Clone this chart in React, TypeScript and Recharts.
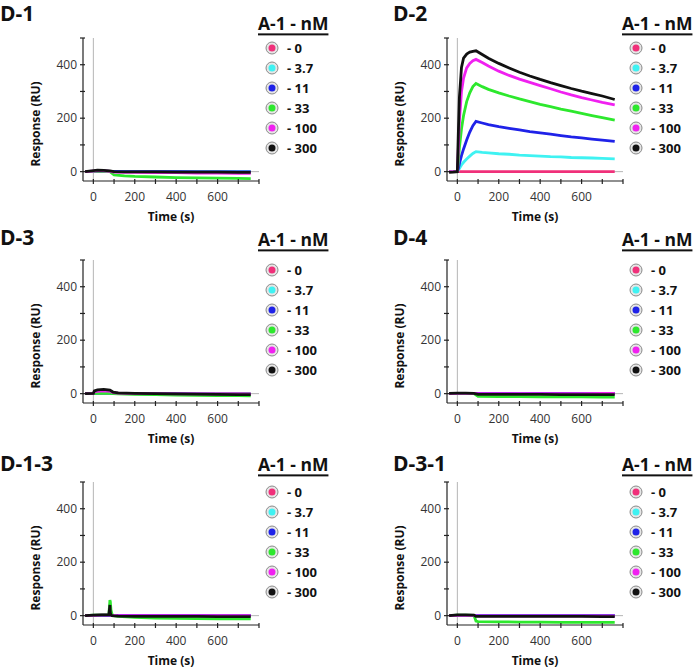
import React from 'react';
import { LineChart, Line, XAxis, YAxis, ReferenceLine } from 'recharts';

const FONT = '"Open Sans", "DejaVu Sans", sans-serif';

const concLabels = ['0', '3.7', '11', '33', '100', '300'];
const concColors = ['#f0307a', '#3ff2f2', '#1f22e8', '#2de82d', '#f020f0', '#111111'];

const xTicks = [0, 100, 200, 300, 400, 500, 600, 700, 800];
const xLabeled = [0, 200, 400, 600];
const yTicks = [0, 100, 200, 300, 400, 500];
const yLabeled = [0, 200, 400];

// D-1
const d1Time = [-40, 0, 20, 50, 80, 100, 150, 200, 300, 400, 500, 600, 700, 760];
const d1s0 = [0, 0, 0, 0, 0, 0, 0, 0, 0, 0, 0, 0, 0, 0];
const d1s3 = [0, 1, 1, 1, 0, 0, 0, 0, 0, 0, 0, 0, 0, 0];
const d1s11 = [0, 1, 2, 2, 1, 1, 0, 0, 0, 0, -1, -1, -1, -1];
const d1s33 = [0, 1, 2, 1, 0, -12, -16, -18, -20, -22, -23, -24, -25, -26];
const d1s100 = [0, 2, 3, 3, 1, -2, -3, -3, -4, -4, -5, -5, -6, -6];
const d1s300 = [0, 4, 6, 5, 3, 0, -1, -1, -1, -2, -2, -2, -3, -3];

// D-2
const d2Time = [-40, -20, 0, 5, 10, 20, 30, 45, 60, 75, 90, 120, 150, 200, 250, 300, 350, 400, 450, 500, 550, 600, 650, 700, 760];
const d2s0 = [0, 0, 0, 0, 0, 0, 0, 0, 0, 0, 0, 0, 0, 0, 0, 0, 0, 0, 0, 0, 0, 0, 0, 0, 0];
const d2s3 = [0, 0, 0, 6, 12, 25, 35, 47, 58, 68, 75, 72, 70, 67, 65, 62, 60, 58, 56, 55, 53, 52, 51, 50, 48];
const d2s11 = [0, 0, 0, 12, 30, 60, 85, 118, 148, 172, 188, 182, 176, 168, 162, 156, 150, 145, 140, 135, 130, 126, 122, 118, 113];
const d2s33 = [0, 0, 0, 40, 90, 160, 210, 262, 295, 318, 330, 318, 308, 295, 283, 272, 262, 252, 243, 234, 226, 218, 210, 202, 193];
const d2s100 = [0, 0, 0, 90, 190, 300, 350, 388, 405, 415, 420, 408, 395, 376, 360, 346, 334, 322, 310, 298, 287, 277, 268, 259, 250];
const d2s300 = [-3, -2, 0, 150, 280, 390, 425, 440, 447, 450, 452, 438, 424, 405, 388, 372, 358, 345, 333, 322, 311, 301, 292, 283, 270];

// D-3
const d3Time = [-40, 0, 5, 20, 50, 80, 95, 120, 200, 300, 400, 500, 600, 700, 760];
const d3s0 = [0, 0, 0, 0, 0, 0, 0, 0, 0, 0, 0, 0, 0, 0, 0];
const d3s3 = [0, 0, 1, 2, 2, 2, 0, 0, 0, -1, -1, -1, -2, -2, -2];
const d3s11 = [0, 0, 2, 3, 3, 3, 1, 0, 0, -1, -1, -2, -2, -2, -2];
const d3s33 = [0, 0, 1, 1, 1, 1, 0, -1, -3, -4, -5, -6, -7, -7, -8];
const d3s100 = [0, 1, 7, 9, 10, 9, 4, 2, 1, 0, -1, -1, -2, -2, -3];
const d3s300 = [0, 1, 10, 14, 16, 13, 6, 3, 1, 0, -1, -2, -3, -4, -4];

// D-4
const d4Time = [-40, 0, 40, 80, 100, 200, 300, 400, 500, 600, 700, 760];
const d4s0 = [0, 0, 0, 0, 0, 0, 0, 0, 0, 0, 0, 0];
const d4s3 = [0, 0, 0, 0, 0, 0, 0, 0, 0, 0, 0, 0];
const d4s11 = [0, 1, 1, 1, 1, 1, 0, 1, 1, 0, 0, 0];
const d4s33 = [0, 1, 1, 0, -10, -11, -11, -12, -12, -12, -13, -13];
const d4s100 = [0, 1, 1, 1, 0, 0, 0, 0, 0, 0, 1, 1];
const d4s300 = [1, 2, 2, 1, -3, -3, -3, -3, -4, -4, -4, -4];

// D-1-3
const d13Time = [-40, 0, 40, 75, 80, 82, 85, 90, 100, 120, 200, 300, 400, 500, 600, 700, 760];
const d13s0 = [0, 0, 0, 0, 0, 0, 0, 0, 0, 0, 0, 0, 0, 0, 0, 0, 0];
const d13s3 = [0, 0, 0, 0, 0, 0, 0, 0, 0, 0, 0, -1, -1, -1, -1, -1, -1];
const d13s11 = [0, 1, 1, 1, 1, 1, 1, 1, 1, 1, 1, 1, 1, 1, 0, 0, 0];
const d13s33 = [0, 2, 3, 4, 58, 52, 22, 5, 0, -3, -6, -9, -10, -11, -12, -12, -12];
const d13s100 = [0, 1, 2, 2, 2, 2, 1, 0, 0, 0, 0, 0, 0, 0, 0, 0, 0];
const d13s300 = [0, 2, 3, 4, 40, 10, 3, 0, -1, -2, -3, -3, -3, -3, -4, -4, -4];

// D-3-1
const d31Time = [-40, 0, 40, 80, 90, 100, 200, 300, 400, 500, 600, 700, 760];
const d31s0 = [0, 0, 0, 0, 0, 0, 0, 0, 0, 0, 0, 0, 0];
const d31s3 = [0, 0, 0, 0, 0, 0, 0, 0, 0, 0, 0, 0, 0];
const d31s11 = [0, 1, 1, 1, 0, 0, 0, 0, 0, 0, 0, 0, 0];
const d31s33 = [0, 2, 2, 1, -20, -22, -23, -24, -24, -25, -25, -25, -25];
const d31s100 = [0, 1, 1, 1, -1, -1, -1, -1, -1, -1, -1, -1, -1];
const d31s300 = [0, 3, 3, 2, -3, -3, -3, -3, -3, -3, -3, -4, -4];

type PanelDef = {
  title: string;
  time: number[];
  series: number[][];
  col: number;
  row: number;
  titleY: number;
  legendY: number;
};

const panels: PanelDef[] = [
  { title: 'D-1', time: d1Time, series: [d1s0, d1s3, d1s11, d1s33, d1s100, d1s300], col: 0, row: 0, titleY: 13, legendY: 24 },
  { title: 'D-2', time: d2Time, series: [d2s0, d2s3, d2s11, d2s33, d2s100, d2s300], col: 1, row: 0, titleY: 13, legendY: 24 },
  { title: 'D-3', time: d3Time, series: [d3s0, d3s3, d3s11, d3s33, d3s100, d3s300], col: 0, row: 1, titleY: 15, legendY: 18 },
  { title: 'D-4', time: d4Time, series: [d4s0, d4s3, d4s11, d4s33, d4s100, d4s300], col: 1, row: 1, titleY: 15, legendY: 18 },
  { title: 'D-1-3', time: d13Time, series: [d13s0, d13s3, d13s11, d13s33, d13s100, d13s300], col: 0, row: 2, titleY: 19, legendY: 21 },
  { title: 'D-3-1', time: d31Time, series: [d31s0, d31s3, d31s11, d31s33, d31s100, d31s300], col: 1, row: 2, titleY: 19, legendY: 21 },
];

const XTick = (props: any) => {
  const { x, y, payload } = props;
  return (
    <g>
      <line x1={x} x2={x} y1={y - 2} y2={y + 3} stroke="#222" strokeWidth={1.2} />
      {xLabeled.includes(payload.value) && (
        <text x={x} y={y + 20} textAnchor="middle" fontSize={12} fill="#333" fontFamily={FONT}>
          {payload.value}
        </text>
      )}
    </g>
  );
};

const YTick = (props: any) => {
  const { x, y, payload } = props;
  return (
    <g>
      <line x1={x - 3} x2={x + 2} y1={y} y2={y} stroke="#222" strokeWidth={1.2} />
      {yLabeled.includes(payload.value) && (
        <text x={x - 6} y={y + 4} textAnchor="end" fontSize={12} fill="#333" fontFamily={FONT}>
          {payload.value}
        </text>
      )}
    </g>
  );
};

const Panel = ({ p }: { p: PanelDef }) => {
  const rows = p.time.map((t, i) => {
    const r: any = { t };
    p.series.forEach((s, k) => {
      r['s' + k] = s[i];
    });
    return r;
  });
  return (
    <div style={{ position: 'absolute', left: p.col * 364, top: p.row * 222, width: 336, height: 222 }}>
      <div
        style={{
          position: 'absolute',
          left: p.col === 0 ? 0 : 29,
          top: p.titleY,
          transform: 'translateY(-50%)',
          fontFamily: FONT,
          fontWeight: 700,
          fontSize: 21,
          lineHeight: 1,
          color: '#111',
        }}
      >
        {p.title}
      </div>
      <div
        style={{
          position: 'absolute',
          left: 258,
          top: p.legendY,
          transform: 'translateY(-50%)',
          fontFamily: FONT,
          fontWeight: 700,
          fontSize: 17.5,
          lineHeight: 1.1,
          color: '#111',
          textDecoration: 'underline',
          textDecorationThickness: 2,
          textUnderlineOffset: 3,
          whiteSpace: 'nowrap',
        }}
      >
        A-1 - nM
      </div>
      {concLabels.map((c, i) => (
        <div
          key={c}
          style={{
            position: 'absolute',
            left: 265,
            top: 48 + i * 20 - 8,
            height: 16,
            display: 'flex',
            alignItems: 'center',
            fontFamily: FONT,
            fontWeight: 700,
            fontSize: 13,
            color: '#111',
            whiteSpace: 'nowrap',
          }}
        >
          <svg width={14} height={14} style={{ marginRight: 8 }}>
            <circle cx={7} cy={7} r={6} fill="#e6e6e6" stroke="#8a8a8a" strokeWidth={1} />
            <circle cx={7} cy={7} r={3.5} fill={concColors[i]} />
          </svg>
          - {c}
        </div>
      ))}
      <div
        style={{
          position: 'absolute',
          left: 35,
          top: 124,
          transform: 'translate(-50%, -50%) rotate(-90deg)',
          fontFamily: FONT,
          fontWeight: 700,
          fontSize: 12,
          color: '#111',
          whiteSpace: 'nowrap',
        }}
      >
        Response (RU)
      </div>
      <div
        style={{
          position: 'absolute',
          left: 171,
          top: 216,
          transform: 'translate(-50%, -50%)',
          fontFamily: FONT,
          fontWeight: 700,
          fontSize: 12,
          color: '#111',
          whiteSpace: 'nowrap',
        }}
      >
        Time (s)
      </div>
      <div style={{ position: 'absolute', left: 0, top: 0 }}>
        <LineChart width={300} height={222} data={rows} margin={{ top: 38, left: 43, right: 41, bottom: 11 }}>
          <ReferenceLine x={0} stroke="#b5b5b5" strokeWidth={1} />
          <ReferenceLine y={0} stroke="#b5b5b5" strokeWidth={1} />
          <XAxis
            dataKey="t"
            type="number"
            domain={[-50, 800]}
            ticks={xTicks}
            allowDataOverflow
            height={30}
            tickSize={0}
            tickMargin={0}
            tickLine={false}
            interval={0}
            axisLine={{ stroke: '#222', strokeWidth: 1.2 }}
            tick={<XTick />}
          />
          <YAxis
            type="number"
            domain={[-35, 500]}
            ticks={yTicks}
            allowDataOverflow
            width={40}
            tickSize={0}
            tickMargin={0}
            tickLine={false}
            interval={0}
            axisLine={{ stroke: '#222', strokeWidth: 1.2 }}
            tick={<YTick />}
          />
          {concColors.map((col, k) => (
            <Line
              key={k}
              dataKey={'s' + k}
              type="linear"
              stroke={col}
              strokeWidth={2.8}
              dot={false}
              isAnimationActive={false}
            />
          ))}
        </LineChart>
      </div>
    </div>
  );
}

export default function App() {
  return (
    <div style={{ position: 'absolute', left: 0, top: 0, width: 700, height: 670, background: '#fff', overflow: 'hidden' }}>
      {panels.map((p) => (
        <Panel key={p.title} p={p} />
      ))}
    </div>
  );
}
